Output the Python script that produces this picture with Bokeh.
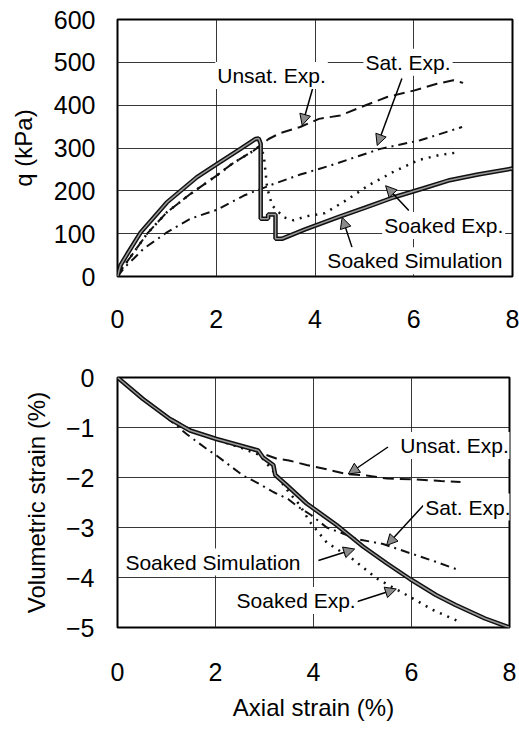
import math
from bokeh.plotting import figure
from bokeh.layouts import column
from bokeh.models import Range1d, FixedTicker, Label, Arrow, NormalHead
from bokeh.embed import file_html
from bokeh.resources import INLINE

FONT = "Liberation Sans"

# ---------------- data: deviator stress q (kPa) vs axial strain (%) ----------------
sim_x = [0, 0.06, 0.2, 0.47, 1.0, 1.61, 2.02, 2.49, 2.79, 2.86, 2.9, 2.9, 3.05, 3.05, 3.2, 3.2,
         3.33, 3.8, 4.5, 5.0, 5.6, 6.2, 6.7, 7.3, 8.0]
sim_q = [0, 26, 53, 103, 173, 232, 263, 298, 321, 322, 310, 135, 135, 145, 145, 88,
         88, 110, 140, 160, 185, 206, 224, 238, 252]

unsat_x = [0, 0.1, 0.26, 0.6, 1.0, 1.48, 2.0, 2.32, 2.76, 2.85,
           3.06, 3.3, 3.7, 4.08, 4.51, 4.92, 5.46, 6.0, 6.47, 6.8, 7.0]
unsat_q = [0, 20, 45, 100, 150, 193, 235, 263, 294, 302,
           321, 335, 349, 368, 376, 395, 419, 434, 450, 458, 452]

sat_x = [0, 0.15, 0.33, 0.53, 1.0, 1.48, 2.02, 2.56, 3.16, 3.7, 4.31, 5.32, 6.13, 6.98]
sat_q = [0, 22, 42, 65, 103, 135, 156, 189, 216, 238, 259, 298, 318, 349]

soaked_x = [0, 0.1, 0.26, 0.6, 1.0, 1.48, 2.0, 2.32, 2.76, 2.85,
            2.96, 3.03, 3.13, 3.37, 3.57, 3.8, 4.2, 4.62, 5.1, 5.6, 6.1, 6.5, 6.9]
soaked_q = [0, 20, 45, 100, 150, 193, 235, 263, 294, 302,
            286, 208, 166, 138, 131, 140, 148, 177, 214, 245, 272, 283, 290]

# ---------------- data: volumetric strain (%) vs axial strain (%) ----------------
sim_ev_x = [0, 0.52, 1.07, 1.48, 2.02, 2.5, 2.87, 2.97, 3.18, 3.22, 3.45, 3.86, 4.47, 5.01,
            5.5, 5.97, 6.5, 6.9, 7.5, 8.0]
sim_ev = [0, -0.43, -0.83, -1.06, -1.23, -1.36, -1.46, -1.6, -1.75, -1.95, -2.15, -2.52, -2.95,
          -3.38, -3.72, -4.03, -4.35, -4.55, -4.82, -5.0]

unsat_ev_x = [0, 0.5, 1.0, 1.5, 2.0, 2.5, 2.9, 3.24, 3.5, 3.86, 4.33, 4.67, 5.08, 5.5, 6.1, 6.6, 7.0]
unsat_ev = [0, -0.4, -0.76, -1.05, -1.22, -1.36, -1.5, -1.62, -1.66, -1.75, -1.85, -1.93, -1.96,
            -2.02, -2.04, -2.07, -2.09]

sat_ev_x = [0, 0.5, 1.0, 1.41, 1.82, 2.02, 2.33, 2.56, 2.9, 3.18, 3.48, 3.69, 3.95, 4.27, 4.6,
            4.88, 5.42, 5.9, 6.51, 6.99]
sat_ev = [0, -0.4, -0.8, -1.13, -1.43, -1.56, -1.79, -1.96, -2.13, -2.29, -2.43, -2.59, -2.75,
          -3.0, -3.12, -3.23, -3.33, -3.49, -3.69, -3.86]

soaked_ev_x = [0, 0.5, 1.0, 1.5, 2.0, 2.5, 2.9, 3.2, 3.5, 3.72, 3.92, 4.27, 4.81, 5.29, 5.9, 6.44, 6.92]
soaked_ev = [0, -0.4, -0.78, -1.06, -1.24, -1.4, -1.55, -1.9, -2.3, -2.55, -2.88, -3.3, -3.64,
             -4.02, -4.35, -4.65, -4.86]

x_ticks = [0, 2, 4, 6, 8]
q_ticks = [0, 100, 200, 300, 400, 500, 600]
ev_ticks = [0, -1, -2, -3, -4, -5]
ev_tick_labels = {0: "0", -1: "\u22121", -2: "\u22122", -3: "\u22123", -4: "\u22124", -5: "\u22125"}

# annotations: (text, x_left, y_center, arrow_start, arrow_end)
top_notes = [
    ("Unsat. Exp.", 1.98, 469, (3.97, 446), (3.74, 353)),
    ("Sat. Exp.", 4.98, 500, (5.76, 462), (5.26, 306)),
    ("Soaked Exp.", 5.36, 119, (5.9, 154), (5.43, 212)),
    ("Soaked Simulation", 4.21, 37, (4.75, 68), (4.55, 138)),
]
bot_notes = [
    ("Unsat. Exp.", 5.73, -1.36, (5.52, -1.39), (4.71, -1.93)),
    ("Sat. Exp.", 6.24, -2.59, (6.24, -2.56), (5.49, -3.36)),
    ("Soaked Simulation", 0.12, -3.69, (4.1, -3.66), (4.84, -3.43)),
    ("Soaked Exp.", 2.39, -4.46, (4.74, -4.53), (5.69, -4.23)),
]


def style(p, yticks, overrides=None):
    p.outline_line_color = "black"
    p.outline_line_width = 2
    p.background_fill_color = "white"
    p.border_fill_color = "white"
    for ax in (p.xaxis[0], p.yaxis[0]):
        ax.major_tick_in = 0
        ax.major_tick_out = 0
        ax.minor_tick_in = 0
        ax.minor_tick_out = 0
        ax.axis_line_color = None
        ax.major_label_text_font = FONT
        ax.major_label_text_font_size = "25px"
        ax.major_label_text_color = "black"
        ax.axis_label_text_font = FONT
        ax.axis_label_text_font_size = "24px"
        ax.axis_label_text_font_style = "normal"
        ax.axis_label_text_color = "black"
    p.xaxis[0].ticker = FixedTicker(ticks=x_ticks)
    p.yaxis[0].ticker = FixedTicker(ticks=yticks)
    if overrides:
        p.yaxis[0].major_label_overrides = overrides
    p.xgrid[0].ticker = FixedTicker(ticks=x_ticks)
    p.ygrid[0].ticker = FixedTicker(ticks=yticks)
    for g in (p.xgrid[0], p.ygrid[0]):
        g.grid_line_color = "#222222"
        g.grid_line_width = 1
        g.grid_line_alpha = 0.9


def draw_series(p, sx, sy, ux, uy, tx, ty, kx, ky):
    p.line(ux, uy, line_color="#111111", line_width=2, line_dash="11 6")
    p.line(tx, ty, line_color="#111111", line_width=2, line_dash="9 5 2 5")
    p.line(kx, ky, line_color="#111111", line_width=2.5, line_dash="2 6")
    p.line(sx, sy, line_color="#111111", line_width=4.5)
    p.line(sx, sy, line_color="#9a9a9a", line_width=1.5)


def notes(p, items):
    for text, xl, yc, a0, a1 in items:
        p.add_layout(Arrow(end=NormalHead(size=11, fill_color="#8a8a8a", line_color="black", line_width=1),
                           x_start=a0[0], y_start=a0[1], x_end=a1[0], y_end=a1[1],
                           line_color="black", line_width=1.5))
    for text, xl, yc, a0, a1 in items:
        p.add_layout(Label(x=xl, y=yc, text=text, text_font=FONT, text_font_size="21px",
                           text_color="black", text_align="left", text_baseline="middle",
                           background_fill_color="white", padding=2))


# ---------------- top figure ----------------
p1 = figure(width=519, height=336, output_backend="svg", toolbar_location=None,
            x_range=Range1d(0, 8), y_range=Range1d(0, 600),
            min_border_left=117, min_border_right=7, min_border_top=19, min_border_bottom=60)
p1.frame_width = 395
p1.frame_height = 257
style(p1, q_ticks)
p1.xaxis[0].major_label_standoff = 33
p1.yaxis[0].major_label_standoff = 22
p1.yaxis[0].axis_label = "q (kPa)"
p1.yaxis[0].axis_label_standoff = 14
draw_series(p1, sim_x, sim_q, unsat_x, unsat_q, sat_x, sat_q, soaked_x, soaked_q)
notes(p1, top_notes)

# ---------------- bottom figure ----------------
p2 = figure(width=519, height=391, output_backend="svg", toolbar_location=None,
            x_range=Range1d(0, 8), y_range=Range1d(-5, 0),
            min_border_left=111, min_border_right=16, min_border_top=41, min_border_bottom=100)
p2.frame_width = 392
p2.frame_height = 250
style(p2, ev_ticks, ev_tick_labels)
p2.xaxis[0].major_label_standoff = 35
p2.yaxis[0].major_label_standoff = 23
p2.xaxis[0].axis_label = "Axial strain (%)"
p2.xaxis[0].axis_label_standoff = 10
p2.yaxis[0].axis_label = "Volumetric strain (%)"
p2.yaxis[0].axis_label_standoff = 13
draw_series(p2, sim_ev_x, sim_ev, unsat_ev_x, unsat_ev, sat_ev_x, sat_ev, soaked_ev_x, soaked_ev)
notes(p2, bot_notes)

layout = column(p1, p2, spacing=0)
open("out.html", "w").write(file_html(layout, INLINE))
